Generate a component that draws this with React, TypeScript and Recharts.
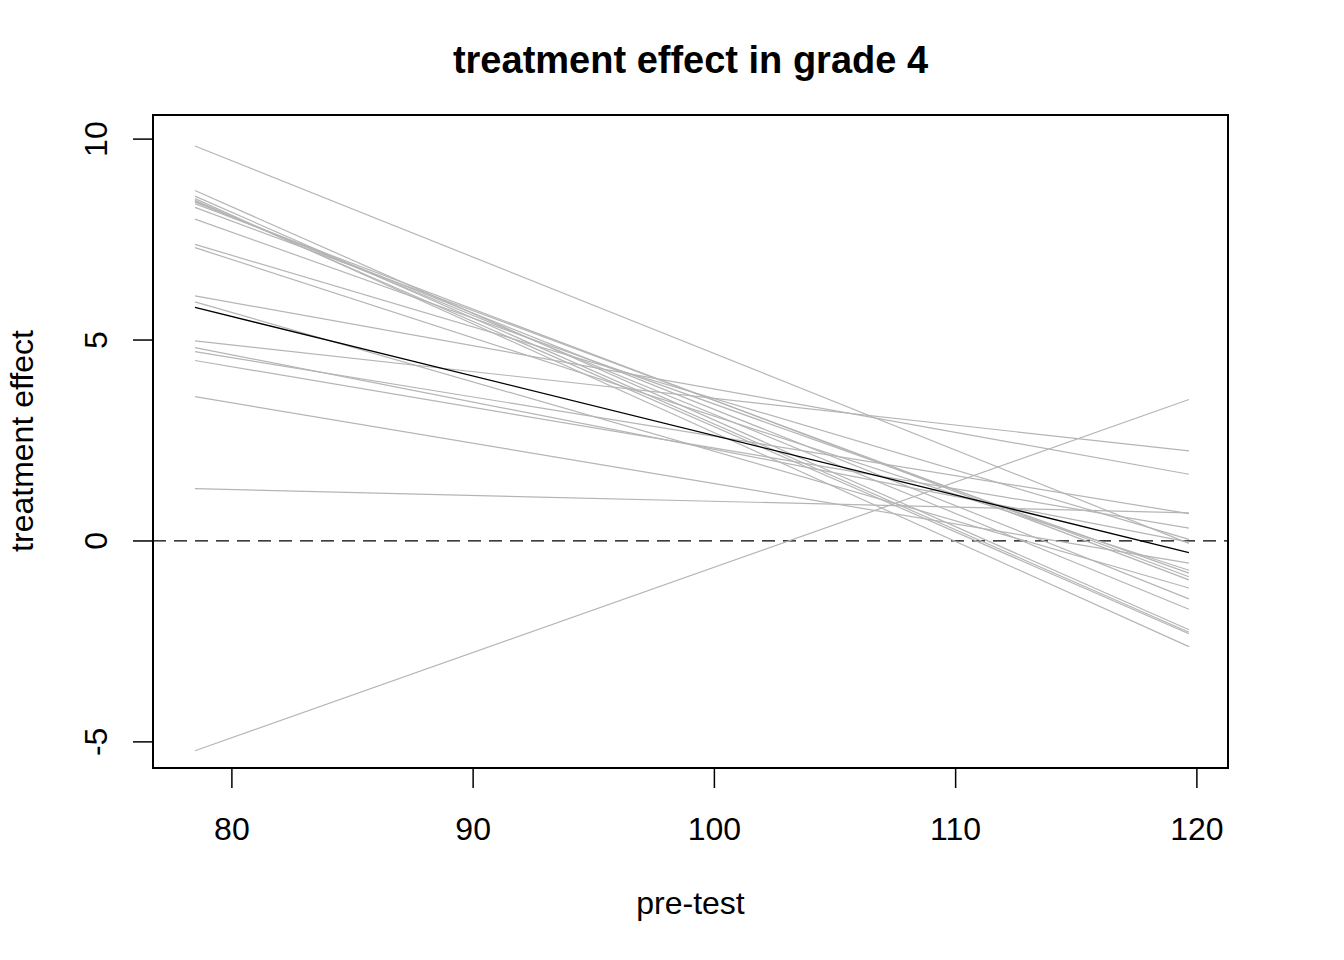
import React from "react";
import { LineChart, Line, XAxis, YAxis, ReferenceLine, ReferenceArea } from "recharts";

// pre-test range spanned by every line
const xStart = 78.47;
const xEnd = 119.67;

// school-level treatment-effect lines (value at left end, value at right end)
const grayStart = [9.83, 8.72, 8.58, 8.52, 8.48, 8.45, 8.43, 8.39, 8.30, 8.01, 7.38, 7.30, 6.10, 5.95, 4.98, 4.81, 4.71, 4.49, 3.59, 1.30, -5.22];
const grayEnd = [-0.06, -2.21, -2.27, -2.63, -2.31, -1.70, -1.44, -0.97, -0.89, -0.80, 0.04, -0.73, 1.66, -1.17, 2.24, -0.03, 0.68, 0.32, -0.55, 0.70, 3.52];

// average line
const meanStart = 5.81;
const meanEnd = -0.29;

const xTicks = [80, 90, 100, 110, 120];
const yTicks = [-5, 0, 5, 10];
const xDomain = [76.73, 121.29];
const yDomain = [-5.65, 10.6];

const FONT = "'Liberation Sans', Arial, Helvetica, sans-serif";

const XTick = (props: any) => {
  const { x, y, payload } = props;
  return (
    <text x={x} y={y + 52} textAnchor="middle" fontFamily={FONT} fontSize={32} fill="#000">
      {payload.value}
    </text>
  );
};

const YTick = (props: any) => {
  const { x, y, payload } = props;
  const bx = x - 26;
  return (
    <text
      x={bx}
      y={y}
      textAnchor="middle"
      transform={`rotate(-90, ${bx}, ${y})`}
      fontFamily={FONT}
      fontSize={32}
      fill="#000"
    >
      {payload.value}
    </text>
  );
};

export default function App() {
  const grayLines = grayStart.map((s, i) => [
    { x: xStart, y: s },
    { x: xEnd, y: grayEnd[i] },
  ]);
  const meanLine = [
    { x: xStart, y: meanStart },
    { x: xEnd, y: meanEnd },
  ];
  return (
    <div style={{ position: "absolute", left: 0, top: 0, width: 1344, height: 960, background: "#fff" }}>
      <LineChart
        width={1344}
        height={960}
        margin={{ top: 115, right: 116, bottom: 92, left: 53 }}
      >
        <XAxis
          dataKey="x"
          type="number"
          domain={xDomain}
          ticks={xTicks}
          allowDataOverflow
          axisLine={false}
          tickLine={{ stroke: "#000", strokeWidth: 1.5 }}
          tickSize={20}
          tickMargin={0}
          height={100}
          tick={<XTick />}
          interval={0}
        />
        <YAxis
          dataKey="y"
          type="number"
          domain={yDomain}
          ticks={yTicks}
          allowDataOverflow
          axisLine={false}
          tickLine={{ stroke: "#000", strokeWidth: 1.5 }}
          tickSize={20}
          tickMargin={0}
          width={100}
          tick={<YTick />}
          interval={0}
        />
        <ReferenceLine y={0} stroke="#000" strokeWidth={1.3} strokeDasharray="13 8" ifOverflow="visible" />
        {grayLines.map((d, i) => (
          <Line
            key={"g" + i}
            data={d}
            dataKey="y"
            stroke="#b5b5b5"
            strokeWidth={1.2}
            dot={false}
            activeDot={false}
            isAnimationActive={false}
          />
        ))}
        <Line
          data={meanLine}
          dataKey="y"
          stroke="#000"
          strokeWidth={1.3}
          dot={false}
          activeDot={false}
          isAnimationActive={false}
        />
        <ReferenceArea
          x1={xDomain[0]}
          x2={xDomain[1]}
          y1={yDomain[0]}
          y2={yDomain[1]}
          fill="none"
          fillOpacity={0}
          stroke="#000"
          strokeWidth={2}
          ifOverflow="visible"
        />
      </LineChart>
      <div
        style={{
          position: "absolute",
          left: 153,
          width: 1075,
          top: 38,
          textAlign: "center",
          fontFamily: FONT,
          fontWeight: "bold",
          fontSize: 38,
          lineHeight: "44px",
        }}
      >
        treatment effect in grade 4
      </div>
      <div
        style={{
          position: "absolute",
          left: 153,
          width: 1075,
          top: 884,
          textAlign: "center",
          fontFamily: FONT,
          fontSize: 32,
          lineHeight: "38px",
        }}
      >
        pre-test
      </div>
      <div
        style={{
          position: "absolute",
          left: 22 - 200,
          top: 441 - 19,
          width: 400,
          height: 38,
          textAlign: "center",
          fontFamily: FONT,
          fontSize: 32,
          lineHeight: "38px",
          transform: "rotate(-90deg)",
        }}
      >
        treatment effect
      </div>
    </div>
  );
}
